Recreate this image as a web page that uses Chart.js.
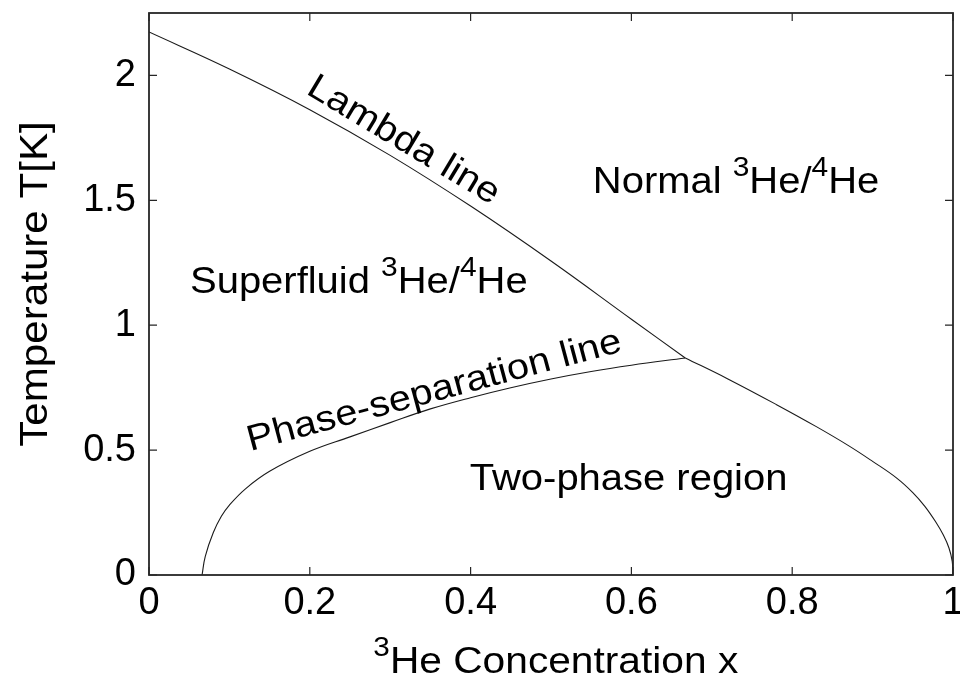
<!DOCTYPE html>
<html>
<head>
<meta charset="utf-8">
<script src="https://cdn.jsdelivr.net/npm/chart.js@4.4.0/dist/chart.umd.min.js"></script>
<style>
  html, body { margin: 0; padding: 0; background: #fff; overflow: hidden; }
  #wrap { width: 960px; height: 683px; }
</style>
</head>
<body>
<div id="wrap"><canvas id="phase" width="960" height="683"></canvas></div>
<script>
// values (x = 3He fraction, T in K)
const lambdaX = [0, 0.1, 0.2, 0.3, 0.4, 0.5, 0.6, 0.667];
const lambdaT = [2.174, 2.026, 1.863, 1.68, 1.477, 1.257, 1.024, 0.869];

const sepLeftX = [0.066, 0.07, 0.08, 0.09, 0.10, 0.12, 0.15, 0.20, 0.25, 0.30, 0.35, 0.40, 0.45, 0.50, 0.55, 0.60, 0.667];
const sepLeftT = [0, 0.075, 0.17, 0.235, 0.28, 0.345, 0.415, 0.495, 0.553, 0.61, 0.665, 0.71, 0.75, 0.785, 0.815, 0.84, 0.869];

const sepRightX = [0.667, 0.72, 0.78, 0.83, 0.87, 0.90, 0.93, 0.95, 0.965, 0.978, 0.988, 0.995, 0.999, 1];
const sepRightT = [0.869, 0.785, 0.683, 0.594, 0.518, 0.455, 0.388, 0.33, 0.275, 0.215, 0.16, 0.108, 0.055, 0];

const xTicks = [0, 0.2, 0.4, 0.6, 0.8, 1];
const yTicks = [0, 0.5, 1, 1.5, 2];

const FONT = '"Liberation Sans", Arial, Helvetica, sans-serif';
const textSize = 36;
const supSize = 27;
const supRaise = 17;
const stretch = 1.11;

// region labels: [text, superscript?] pieces, anchor in data units
const labels = [
  { parts: [['Lambda line', 0]], x: 0.310, y: 1.705, angle: 31, align: 'center' },
  { parts: [['Normal ', 0], ['3', 1], ['He/', 0], ['4', 1], ['He', 0]], x: 0.552, y: 1.529, angle: 0, align: 'left' },
  { parts: [['Superfluid ', 0], ['3', 1], ['He/', 0], ['4', 1], ['He', 0]], x: 0.051, y: 1.129, angle: 0, align: 'left' },
  { parts: [['Phase-separation line', 0]], x: 0.358, y: 0.697, angle: -15, align: 'center' },
  { parts: [['Two-phase region', 0]], x: 0.399, y: 0.340, angle: 0, align: 'left' }
];

function toPoints(xs, ys) {
  return xs.map((x, i) => ({ x: x, y: ys[i] }));
}

function drawRich(ctx, parts, x, y, angle, align, size, sx) {
  size = size || textSize;
  sx = sx || stretch;
  ctx.save();
  ctx.translate(x, y);
  ctx.rotate(angle * Math.PI / 180);
  ctx.scale(sx, 1);
  ctx.textBaseline = 'alphabetic';
  ctx.textAlign = 'left';
  ctx.fillStyle = '#000';
  let w = 0;
  parts.forEach(p => {
    ctx.font = (p[1] ? supSize : size) + 'px ' + FONT;
    w += ctx.measureText(p[0]).width;
  });
  let cx = align === 'center' ? -w / 2 : 0;
  parts.forEach(p => {
    ctx.font = (p[1] ? supSize : size) + 'px ' + FONT;
    ctx.fillText(p[0], cx, p[1] ? -supRaise : 0);
    cx += ctx.measureText(p[0]).width;
  });
  ctx.restore();
}

// box frame with inward ticks on all four sides, like the original figure
const framePlugin = {
  id: 'frame',
  afterDatasetsDraw(chart) {
    const ctx = chart.ctx;
    const a = chart.chartArea;
    const xs = chart.scales.x, ys = chart.scales.y;
    const tl = 8;
    ctx.save();
    ctx.strokeStyle = '#262626';
    ctx.lineWidth = 1.8;
    ctx.strokeRect(a.left, a.top, a.right - a.left, a.bottom - a.top);
    ctx.lineWidth = 1.2;
    ctx.beginPath();
    xTicks.forEach(v => {
      const px = xs.getPixelForValue(v);
      ctx.moveTo(px, a.bottom); ctx.lineTo(px, a.bottom - tl);
      ctx.moveTo(px, a.top); ctx.lineTo(px, a.top + tl);
    });
    yTicks.forEach(v => {
      const py = ys.getPixelForValue(v);
      ctx.moveTo(a.left, py); ctx.lineTo(a.left + tl, py);
      ctx.moveTo(a.right, py); ctx.lineTo(a.right - tl, py);
    });
    ctx.stroke();
    ctx.restore();
  },
  afterDraw(chart) {
    const ctx = chart.ctx;
    const a = chart.chartArea;
    const xs = chart.scales.x, ys = chart.scales.y;
    labels.forEach(l => {
      drawRich(ctx, l.parts, xs.getPixelForValue(l.x), ys.getPixelForValue(l.y), l.angle, l.align);
    });
    // axis titles
    drawRich(ctx, [['3', 1], ['He Concentration x', 0]], xs.getPixelForValue(0.506), a.bottom + 98, 0, 'center', 37, 1.1);
    drawRich(ctx, [['Temperature T[K]', 0]], a.left - 102, ys.getPixelForValue(1.165), -90, 'center', 39, 1.08);
  }
};

const lineStyle = {
  showLine: true,
  borderColor: '#1a1a1a',
  borderWidth: 1.1,
  pointRadius: 0,
  fill: false,
  tension: 0.4
};

new Chart(document.getElementById('phase'), {
  type: 'scatter',
  data: {
    datasets: [
      Object.assign({ label: 'Lambda line', data: toPoints(lambdaX, lambdaT) }, lineStyle),
      Object.assign({ label: 'Phase separation (dilute)', data: toPoints(sepLeftX, sepLeftT) }, lineStyle),
      Object.assign({ label: 'Phase separation (concentrated)', data: toPoints(sepRightX, sepRightT) }, lineStyle)
    ]
  },
  options: {
    responsive: false,
    animation: false,
    layout: { padding: { top: 13, right: 7, left: 0, bottom: 0 } },
    plugins: { legend: { display: false }, tooltip: { enabled: false } },
    scales: {
      x: {
        type: 'linear',
        min: 0,
        max: 1,
        grid: { display: false, drawTicks: false },
        border: { display: false },
        ticks: {
          color: '#000',
          font: { family: FONT, size: 38 },
          padding: 6,
          maxRotation: 0,
          callback: v => String(v)
        },
        afterBuildTicks: s => { s.ticks = xTicks.map(v => ({ value: v })); },
        afterFit: s => { s.height = 108; s.paddingLeft = 0; s.paddingRight = 0; }
      },
      y: {
        type: 'linear',
        min: 0,
        max: 2.25,
        grid: { display: false, drawTicks: false },
        border: { display: false },
        ticks: {
          color: '#000',
          font: { family: FONT, size: 38 },
          padding: 13,
          callback: v => String(v)
        },
        afterBuildTicks: s => { s.ticks = yTicks.map(v => ({ value: v })); },
        afterFit: s => { s.width = 149; s.paddingTop = 0; s.paddingBottom = 0; }
      }
    }
  },
  plugins: [framePlugin]
});
</script>
</body>
</html>
